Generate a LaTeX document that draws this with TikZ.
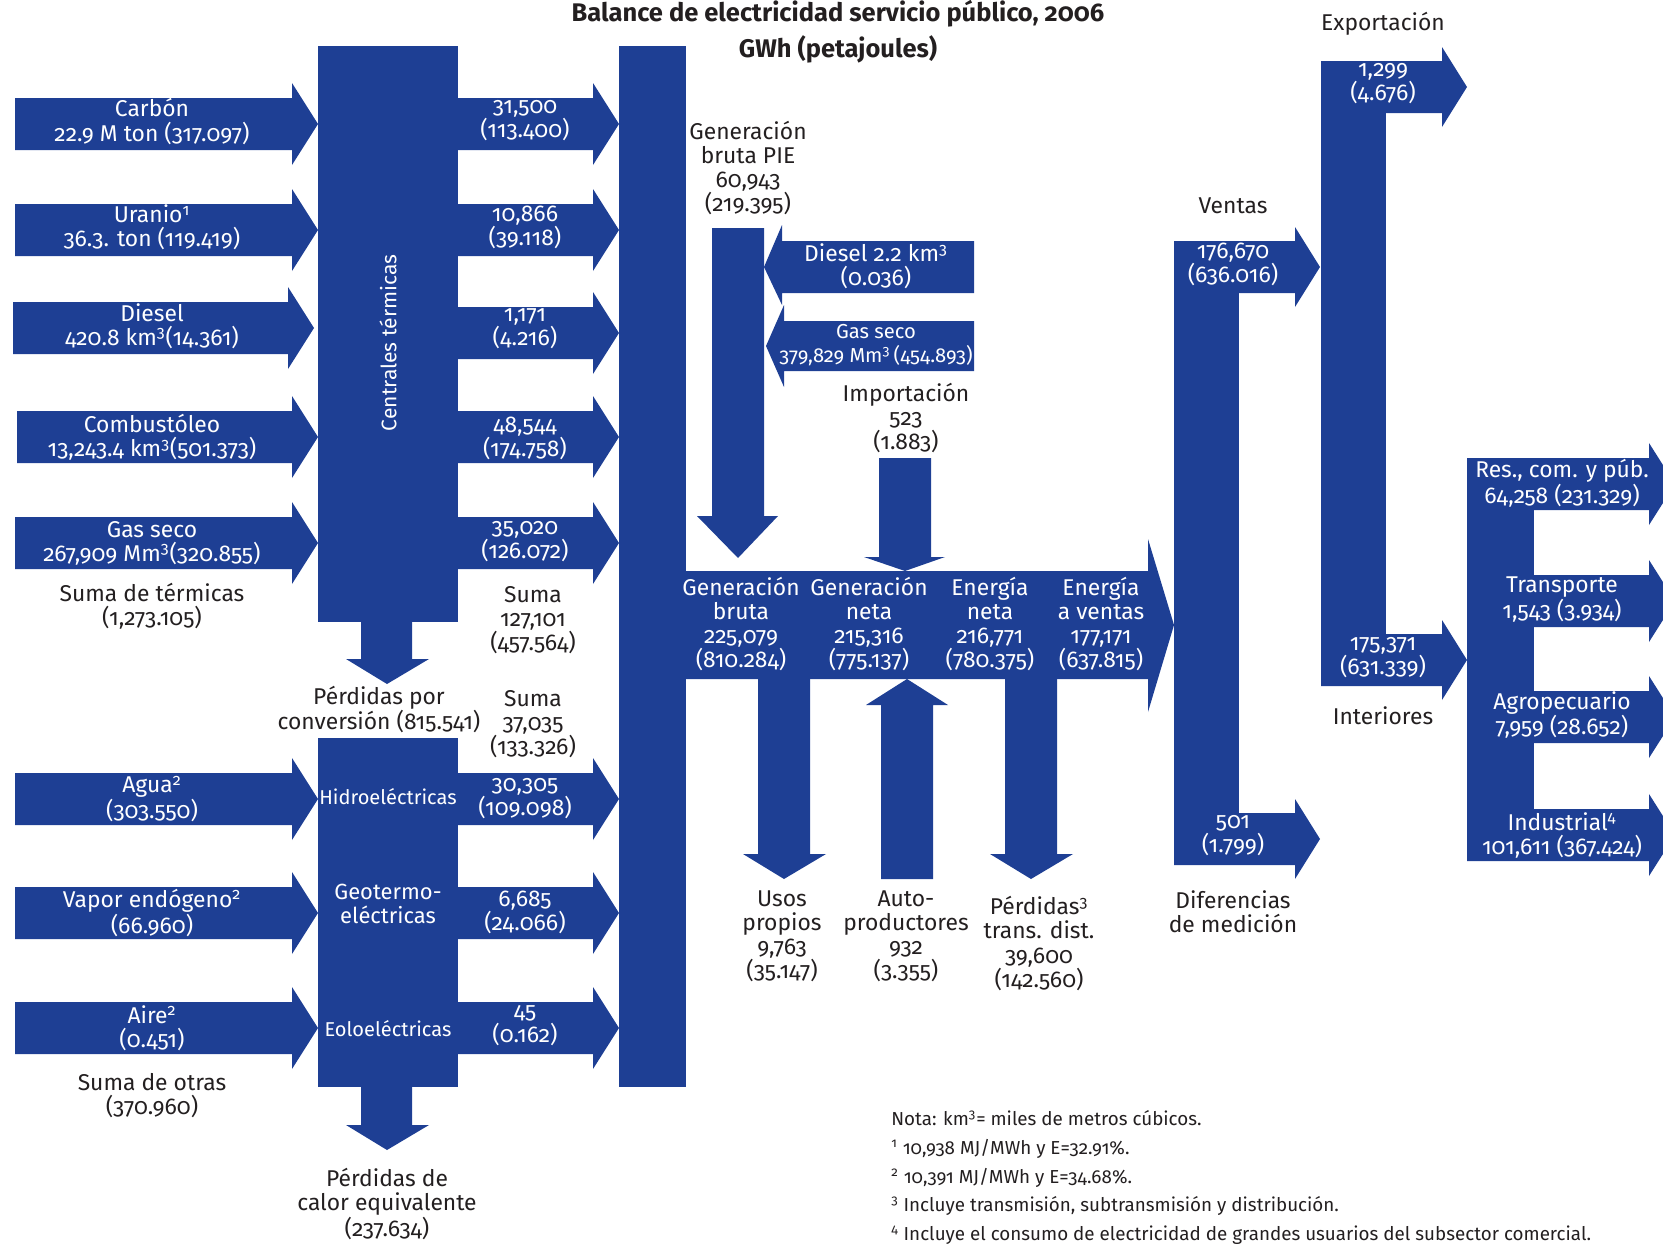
\documentclass[tikz,border=0pt]{standalone}
\usepackage{fontspec}
\setmainfont{Fira Sans}[Numbers=OldStyle]
\definecolor{azul}{RGB}{30,63,148}
\definecolor{tinta}{RGB}{35,31,32}
\tikzset{
  flujo/.style={fill=azul},
  blanco/.style={text=white, align=center, inner sep=0pt, font=\fontsize{13}{13.7}\selectfont},
  negro/.style={text=tinta, align=center, inner sep=0pt, font=\fontsize{13}{13.7}\selectfont},
  central/.style={blanco, font=\fontsize{11.4}{13.7}\selectfont},
  titulo/.style={text=tinta, inner sep=0pt, font=\fontsize{14.5}{16}\selectfont\bfseries},
  nota/.style={text=tinta, align=left, inner sep=0pt, font=\fontsize{10.7}{16.3}\selectfont},
}
\begin{document}
\begin{tikzpicture}[x=0.02cm,y=-0.02cm]
  \useasboundingbox (0,0) rectangle (1663,1244);
  \clip (0,0) rectangle (1663,1244);

  \node[titulo] (titulo1) at (838,14) {Balance de electricidad servicio público, 2006};
  \node[titulo] (titulo2) at (838,49) {GWh (petajoules)};

  \fill[flujo] (318,46) rectangle (458,622);
  \fill[flujo] (361,620) -- (412,620) -- (412,659) -- (429,659) -- (387,684) -- (346,659) -- (361,659) -- cycle;
  \fill[flujo] (318,738) rectangle (458,1087);
  \fill[flujo] (361,1085) -- (412,1085) -- (412,1125) -- (429,1125) -- (387,1150) -- (346,1125) -- (361,1125) -- cycle;
  \fill[flujo] (619,46) rectangle (686,1087);

  \fill[flujo] (15,98) -- (292,98) -- (292,83) -- (318,124) -- (292,165) -- (292,150) -- (15,150) -- cycle;
  \fill[flujo] (15,204) -- (292,204) -- (292,189) -- (318,230) -- (292,271) -- (292,256) -- (15,256) -- cycle;
  \fill[flujo] (13,302) -- (288,302) -- (288,287) -- (314,328) -- (288,369) -- (288,354) -- (13,354) -- cycle;
  \fill[flujo] (17,411) -- (292,411) -- (292,396) -- (318,437) -- (292,478) -- (292,463) -- (17,463) -- cycle;
  \fill[flujo] (15,517) -- (292,517) -- (292,502) -- (318,543) -- (292,584) -- (292,569) -- (15,569) -- cycle;
  \fill[flujo] (15,773) -- (292,773) -- (292,758) -- (318,799) -- (292,840) -- (292,825) -- (15,825) -- cycle;
  \fill[flujo] (15,887) -- (292,887) -- (292,872) -- (318,913) -- (292,954) -- (292,939) -- (15,939) -- cycle;
  \fill[flujo] (15,1002) -- (292,1002) -- (292,987) -- (318,1028) -- (292,1069) -- (292,1054) -- (15,1054) -- cycle;

  \fill[flujo] (456,98) -- (593,98) -- (593,83) -- (619,124) -- (593,165) -- (593,150) -- (456,150) -- cycle;
  \fill[flujo] (456,204) -- (593,204) -- (593,189) -- (619,230) -- (593,271) -- (593,256) -- (456,256) -- cycle;
  \fill[flujo] (456,307) -- (593,307) -- (593,292) -- (619,333) -- (593,374) -- (593,359) -- (456,359) -- cycle;
  \fill[flujo] (456,411) -- (593,411) -- (593,396) -- (619,437) -- (593,478) -- (593,463) -- (456,463) -- cycle;
  \fill[flujo] (456,517) -- (593,517) -- (593,502) -- (619,543) -- (593,584) -- (593,569) -- (456,569) -- cycle;
  \fill[flujo] (456,773) -- (593,773) -- (593,758) -- (619,799) -- (593,840) -- (593,825) -- (456,825) -- cycle;
  \fill[flujo] (456,887) -- (593,887) -- (593,872) -- (619,913) -- (593,954) -- (593,939) -- (456,939) -- cycle;
  \fill[flujo] (456,1002) -- (593,1002) -- (593,987) -- (619,1028) -- (593,1069) -- (593,1054) -- (456,1054) -- cycle;

  \fill[flujo] (712,228) -- (764,228) -- (764,516) -- (778,516) -- (738,558) -- (697,516) -- (712,516) -- cycle;
  \fill[flujo] (974,241) -- (782,241) -- (782,225) -- (764,267) -- (782,305) -- (782,293) -- (974,293) -- cycle;
  \fill[flujo] (974,321) -- (784,321) -- (784,305) -- (766,346) -- (784,387) -- (784,371) -- (974,371) -- cycle;
  \fill[flujo] (879,458) -- (931,458) -- (931,557) -- (945,557) -- (905,571) -- (864,557) -- (879,557) -- cycle;

  \fill[flujo] (684,571) -- (1148,571) -- (1148,539) -- (1174,625) -- (1148,712) -- (1148,679) -- (684,679) -- cycle;
  \fill[flujo] (758,677) -- (810,677) -- (810,854) -- (826,854) -- (784,879) -- (743,854) -- (758,854) -- cycle;
  \fill[flujo] (881,879) -- (933,879) -- (933,705) -- (948,705) -- (907,679) -- (866,705) -- (881,705) -- cycle;
  \fill[flujo] (1005,677) -- (1057,677) -- (1057,854) -- (1073,854) -- (1031,879) -- (990,854) -- (1005,854) -- cycle;

  \fill[flujo] (1174,241) rectangle (1239,865);
  \fill[flujo] (1174,241) -- (1295,241) -- (1295,227) -- (1320,267) -- (1295,307) -- (1295,293) -- (1174,293) -- cycle;
  \fill[flujo] (1174,813) -- (1295,813) -- (1295,799) -- (1320,839) -- (1295,879) -- (1295,865) -- (1174,865) -- cycle;
  \fill[flujo] (1321,61) rectangle (1386,686);
  \fill[flujo] (1321,61) -- (1442,61) -- (1442,47) -- (1467,87) -- (1442,127) -- (1442,113) -- (1321,113) -- cycle;
  \fill[flujo] (1321,634) -- (1442,634) -- (1442,620) -- (1467,660) -- (1442,700) -- (1442,686) -- (1321,686) -- cycle;
  \fill[flujo] (1467,458) rectangle (1534,861);
  \fill[flujo] (1467,458) -- (1649,458) -- (1649,443) -- (1675,484) -- (1649,525) -- (1649,510) -- (1467,510) -- cycle;
  \fill[flujo] (1467,575) -- (1649,575) -- (1649,560) -- (1675,601) -- (1649,642) -- (1649,627) -- (1467,627) -- cycle;
  \fill[flujo] (1467,691) -- (1649,691) -- (1649,676) -- (1675,717) -- (1649,758) -- (1649,743) -- (1467,743) -- cycle;
  \fill[flujo] (1467,809) -- (1649,809) -- (1649,794) -- (1675,835) -- (1649,876) -- (1649,861) -- (1467,861) -- cycle;

  \node[blanco] (carbon) at (152,121.5) {Carbón\\22.9 M ton (317.097)};
  \node[blanco] (uranio) at (152,227.5) {Uranio\textsuperscript{1}\\36.3. ton (119.419)};
  \node[blanco] (diesel) at (152,326) {Diesel\\420.8 km\textsuperscript{3}(14.361)};
  \node[blanco] (combustoleo) at (152,437.5) {Combustóleo\\13,243.4 km\textsuperscript{3}(501.373)};
  \node[blanco] (gasseco) at (152,543) {Gas seco\\267,909 Mm\textsuperscript{3}(320.855)};
  \node[negro] (sumatermicas) at (152,606.5) {Suma de térmicas\\(1,273.105)};
  \node[blanco] (agua) at (152,799) {Agua\textsuperscript{2}\\(303.550)};
  \node[blanco] (vapor) at (152,913) {Vapor endógeno\textsuperscript{2}\\(66.960)};
  \node[blanco] (aire) at (152,1028) {Aire\textsuperscript{2}\\(0.451)};
  \node[negro] (sumaotras) at (152,1096) {Suma de otras\\(370.960)};

  \node[central, rotate=90, font=\fontsize{12}{13.7}\selectfont] (centrales) at (388,343) {Centrales térmicas};
  \node[negro] (perdconversion) at (379,709.5) {Pérdidas por\\conversión (815.541)};
  \node[central] (hidro) at (388,797) {Hidroeléctricas};
  \node[central, font=\fontsize{12.5}{13.7}\selectfont] (geo) at (388,903.5) {Geotermo-\\eléctricas};
  \node[central] (eolo) at (388,1029) {Eoloeléctricas};
  \node[negro] (perdcalor) at (387,1204) {Pérdidas de\\calor equivalente\\(237.634)};

  \node[blanco] (salcarbon) at (525,121) {31,500\\(113.400)};
  \node[blanco] (saluranio) at (525,227.5) {10,866\\(39.118)};
  \node[blanco] (saldiesel) at (525,329) {1,171\\(4.216)};
  \node[blanco] (salcombustoleo) at (525,438.5) {48,544\\(174.758)};
  \node[blanco] (salgas) at (525,541.5) {35,020\\(126.072)};
  \node[negro] (sumasalterm) at (533,620) {Suma\\127,101\\(457.564)};
  \node[negro] (sumasalotras) at (533,724) {Suma\\37,035\\(133.326)};
  \node[blanco] (salhidro) at (525,799) {30,305\\(109.098)};
  \node[blanco] (salgeo) at (525,912) {6,685\\(24.066)};
  \node[blanco] (saleolo) at (525,1026) {45\\(0.162)};

  \node[negro] (pie) at (748,168) {Generación\\bruta PIE\\60,943\\(219.395)};
  \node[blanco] (dieselpie) at (876,266.5) {Diesel 2.2 km\textsuperscript{3}\\(0.036)};
  \node[blanco, font=\fontsize{11.5}{13.7}\selectfont] (gaspie) at (876,345.5) {Gas seco\\379,829 Mm\textsuperscript{3}\,(454.893)};
  \node[negro] (importacion) at (906,418) {Importación\\523\\(1.883)};

  \node[blanco] (genbruta) at (741,624) {Generación\\bruta\\225,079\\(810.284)};
  \node[blanco] (genneta) at (869,624) {Generación\\neta\\215,316\\(775.137)};
  \node[blanco] (enneta) at (990,624) {Energía\\neta\\216,771\\(780.375)};
  \node[blanco] (enventas) at (1101,624) {Energía\\a ventas\\177,171\\(637.815)};
  \node[negro] (usos) at (782,936.5) {Usos\\propios\\9,763\\(35.147)};
  \node[negro] (autoprod) at (906,936.5) {Auto-\\productores\\932\\(3.355)};
  \node[negro] (perdtrans) at (1039,943.5) {Pérdidas\textsuperscript{3}\\trans. dist.\\39,600\\(142.560)};

  \node[negro] (ventas) at (1233,206) {Ventas};
  \node[blanco] (valventas) at (1233,264) {176,670\\(636.016)};
  \node[blanco] (valdif) at (1233,836) {501\\(1.799)};
  \node[negro] (diferencias) at (1233,911.5) {Diferencias\\de medición};
  \node[negro] (exportacion) at (1383,24) {Exportación};
  \node[blanco] (valexport) at (1383,84) {1,299\\(4.676)};
  \node[blanco] (valinter) at (1383,658) {175,371\\(631.339)};
  \node[negro] (interiores) at (1383,716) {Interiores};

  \node[blanco] (residencial) at (1562,483.5) {Res., com. y púb.\\64,258 (231.329)};
  \node[blanco] (transporte) at (1562,599.5) {Transporte\\1,543 (3.934)};
  \node[blanco] (agropecuario) at (1562,715) {Agropecuario\\7,959 (28.652)};
  \node[blanco] (industrial) at (1562,835.5) {Industrial\textsuperscript{4}\\101,611 (367.424)};

  \node[nota, anchor=west] (notas) at (891,1177.5) {Nota: km\textsuperscript{3}= miles de metros cúbicos.\\
    \textsuperscript{1} 10,938 MJ/MWh y E=32.91\%.\\
    \textsuperscript{2} 10,391 MJ/MWh y E=34.68\%.\\
    \textsuperscript{3} Incluye transmisión, subtransmisión y distribución.\\
    \textsuperscript{4} Incluye el consumo de electricidad de grandes usuarios del subsector comercial.};
\end{tikzpicture}
\end{document}
